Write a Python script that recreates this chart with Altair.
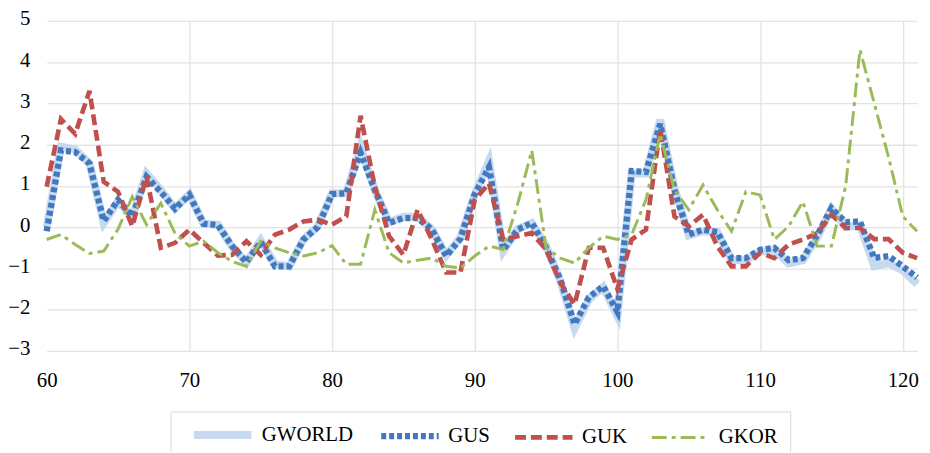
import altair as alt
import pandas as pd

years = list(range(60, 122))

gworld = [0.0, 1.95, 1.88, 1.55, 0.1, 0.62, 0.25, 1.3, 0.9, 0.45,
          0.8, 0.08, 0.06, -0.48, -0.85, -0.32, -0.9, -0.95, -0.3, 0.02,
          0.82, 0.82, 1.95, 0.9, 0.12, 0.25, 0.25, -0.05, -0.68, -0.25,
          0.8, 1.6, -0.58, -0.05, 0.1, -0.45, -1.3, -2.45, -1.75, -1.45,
          -2.15, 1.3, 1.3, 2.6, 0.95, -0.2, -0.1, -0.12, -0.8, -0.8,
          -0.6, -0.55, -0.88, -0.8, -0.25, 0.45, 0.0, 0.05, -0.95, -0.87,
          -1.05, -1.38]
gus = [-0.1, 1.86, 1.82, 1.54, 0.15, 0.66, 0.26, 1.22, 0.85, 0.45,
       0.78, 0.08, 0.05, -0.46, -0.85, -0.36, -0.95, -0.95, -0.3, 0.0,
       0.8, 0.82, 1.8, 0.9, 0.1, 0.22, 0.22, -0.06, -0.7, -0.28,
       0.8, 1.45, -0.55, -0.06, 0.1, -0.5, -1.27, -2.35, -1.7, -1.43,
       -2.05, 1.36, 1.34, 2.5, 0.9, -0.18, -0.06, -0.12, -0.75, -0.75,
       -0.55, -0.5, -0.8, -0.75, -0.2, 0.46, 0.12, 0.14, -0.75, -0.7,
       -0.95, -1.22]
guk = [0.98, 2.62, 2.26, 3.3, 1.1, 0.86, 0.02, 1.22, -0.5, -0.38,
       -0.06, -0.38, -0.69, -0.67, -0.34, -0.67, -0.18, -0.06, 0.14, 0.18,
       0.06, 0.26, 2.7, 0.98, -0.22, -0.67, 0.42, -0.3, -1.1, -1.1,
       0.66, 1.06, -0.3, -0.22, -0.14, -0.54, -1.35, -1.87, -0.5, -0.5,
       -1.5, -0.3, -0.06, 2.38, 0.26, 0.02, 0.3, -0.46, -0.95, -0.95,
       -0.62, -0.75, -0.42, -0.3, -0.15, 0.3, -0.02, -0.02, -0.29, -0.29,
       -0.62, -0.75]
gkor = [-0.3, -0.18, -0.42, -0.64, -0.58, -0.05, 0.74, 0.06, 0.58, -0.15,
        -0.46, -0.34, -0.62, -0.83, -0.95, -0.34, -0.5, -0.62, -0.7, -0.62,
        -0.45, -0.9, -0.9, 0.42, -0.62, -0.87, -0.8, -0.75, -0.95, -0.99,
        -0.7, -0.46, -0.54, 0.55, 1.86, -0.5, -0.75, -0.87, -0.5, -0.22,
        -0.3, -0.18, 0.66, 2.26, 0.9, 0.42, 1.02, 0.42, -0.1, 0.86,
        0.78, -0.3, 0.02, 0.62, -0.46, -0.46, 1.0, 4.3, 3.0, 1.7,
        0.26, -0.1]

series_names = ["GWORLD", "GUS", "GUK", "GKOR"]
series_values = [gworld, gus, guk, gkor]
colors = ["#c6d9ee", "#4079c0", "#c0504d", "#9bbb59"]
dashes = [[1, 0], [5, 3], [11, 5], [15, 5, 4, 5]]
widths = [8, 3, 3, 3]

rows = []
for name, vals in zip(series_names, series_values):
    for x, v in zip(years, vals):
        rows.append({"x": x, "value": v, "series": name})
df = pd.DataFrame(rows)

FONT = "Liberation Serif"

legend = alt.Legend(
    title=None,
    orient="none",
    direction="horizontal",
    legendX=125,
    legendY=394,
    symbolType="M0,0H8",
    symbolSize=210,
    labelFont=FONT,
    labelFontSize=21,
    labelColor="#000000",
    labelOffset=57,
    columnPadding=14,
    padding=12,
    strokeColor="#d9d9d9",
    fillColor="#ffffff",
    labelLimit=300,
)

enc = dict(
    x=alt.X("x:Q",
            scale=alt.Scale(domain=[60, 121], nice=False, zero=False),
            axis=alt.Axis(values=list(range(60, 121, 10)), title=None,
                          ticks=False, tickSize=0, domain=False,
                          labelFont=FONT, labelFontSize=21, labelColor="#000000",
                          labelPadding=19, labelFlush=False, labelOverlap=False,
                          gridColor="#e3e3e3", gridWidth=1.3,
                          gridOpacity={"condition": {"test": "datum.value === 60", "value": 0},
                                       "value": 1})),
    y=alt.Y("value:Q",
            scale=alt.Scale(domain=[-3, 5], nice=False, zero=False),
            axis=alt.Axis(values=list(range(-3, 6)), title=None,
                          ticks=False, tickSize=0, domain=False,
                          labelFont=FONT, labelFontSize=21, labelColor="#000000",
                          labelPadding=17, labelFlush=False, labelOverlap=False,
                          labelOffset=-2,
                          gridColor="#e3e3e3", gridWidth=1.3)),
    stroke=alt.Stroke("series:N",
                      scale=alt.Scale(domain=series_names, range=colors),
                      legend=legend),
    strokeDash=alt.StrokeDash("series:N",
                              scale=alt.Scale(domain=series_names, range=dashes),
                              legend=legend),
    strokeWidth=alt.StrokeWidth("series:N",
                                scale=alt.Scale(domain=series_names, range=widths),
                                legend=legend),
)

layers = []
for name in series_names:
    layers.append(
        alt.Chart(df).transform_filter(alt.datum.series == name)
        .mark_line(strokeJoin="miter", strokeCap="butt")
        .encode(**enc)
    )

chart = alt.layer(*layers).properties(
    width=878,
    height=333,
    autosize=alt.AutoSizeParams(type="none"),
    padding={"left": 39, "top": 11, "right": 5, "bottom": 100},
).configure_view(stroke=None)

chart.save("out.html", embed_options={"renderer": "svg", "actions": False})
